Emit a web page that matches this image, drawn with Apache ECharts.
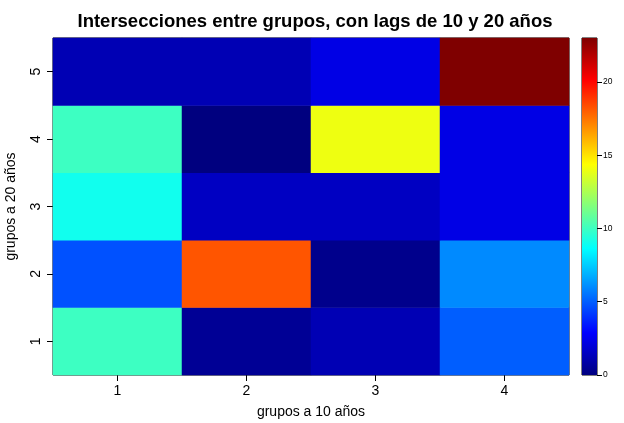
<!DOCTYPE html>
<html>
<head>
<meta charset="utf-8">
<script src="https://cdn.jsdelivr.net/npm/echarts@6/dist/echarts.min.js"></script>
<style>
  html, body { margin: 0; padding: 0; background: #fff; }
  #chart { width: 624px; height: 423px; }
</style>
</head>
<body>
<div id="chart"></div>
<script>
// Group labels on each axis
const xGroups = ['1', '2', '3', '4'];          // grupos a 10 años
const yGroups = ['1', '2', '3', '4', '5'];     // grupos a 20 años

// Intersection counts, one array per 20-year group (row), ordered by 10-year group
const row1 = [10, 0.5, 1.2, 5.0];
const row2 = [4.7, 18.2, 0.3, 6.0];
const row3 = [9.0, 1.5, 1.5, 2.3];
const row4 = [10, 0, 14, 2.3];
const row5 = [1.2, 1.2, 2.3, 23];
const rows = [row1, row2, row3, row4, row5];

// Colour scale range and legend ticks
const scaleMin = 0;
const scaleMax = 23;
const legendTicks = [0, 5, 10, 15, 20];

// Jet palette
const jet = ['#00007F', '#0000FF', '#007FFF', '#00FFFF', '#7FFF7F', '#FFFF00', '#FF7F00', '#FF0000', '#7F0000'];

const cells = [];
rows.forEach((r, yi) => r.forEach((v, xi) => cells.push([xi, yi, v])));

const font = 'Liberation Sans, Arial, Helvetica, sans-serif';

const chart = echarts.init(document.getElementById('chart'), null, { renderer: 'canvas' });
chart.setOption({
  backgroundColor: '#ffffff',
  animation: false,
  textStyle: { fontFamily: font },
  title: {
    text: 'Intersecciones entre grupos, con lags de 10 y 20 años',
    left: 310, top: 7, textAlign: 'center',
    textStyle: { fontFamily: font, fontWeight: 'bold', fontSize: 18.5, color: '#000' }
  },
  grid: [
    { left: 53, right: 55, top: 38, bottom: 48, outerBoundsMode: 'none', containLabel: false,
      show: true, borderColor: '#000', borderWidth: 1, backgroundColor: 'transparent' },
    { left: 582, width: 15, top: 38, bottom: 48, outerBoundsMode: 'none', containLabel: false,
      show: true, borderColor: '#000', borderWidth: 1, backgroundColor: 'transparent' }
  ],
  xAxis: [
    {
      gridIndex: 0, type: 'category', data: xGroups,
      name: 'grupos a 10 años', nameLocation: 'middle', nameGap: 30,
      nameTextStyle: { fontSize: 14, color: '#000' },
      axisLine: { show: false },
      axisTick: { show: true, alignWithLabel: true, length: 6, lineStyle: { color: '#000' } },
      axisLabel: { fontSize: 14, color: '#000', margin: 9 },
      splitLine: { show: false }
    },
    {
      gridIndex: 1, type: 'category', data: ['escala'],
      axisLine: { show: false }, axisTick: { show: false }, axisLabel: { show: false }
    }
  ],
  yAxis: [
    {
      gridIndex: 0, type: 'category', data: yGroups,
      name: 'grupos a 20 años', nameLocation: 'middle', nameGap: 35, nameRotate: 90,
      nameTextStyle: { fontSize: 14, color: '#000' },
      axisLine: { show: false },
      axisTick: { show: true, alignWithLabel: true, length: 6, lineStyle: { color: '#000' } },
      axisLabel: { fontSize: 14, color: '#000', rotate: 90, margin: 10 },
      splitLine: { show: false }
    },
    {
      gridIndex: 1, type: 'value', position: 'right', min: scaleMin, max: scaleMax,
      axisLine: { show: false },
      axisTick: { show: true, length: 5, customValues: legendTicks, lineStyle: { color: '#000' } },
      axisLabel: { fontSize: 8.5, color: '#000', margin: 6, customValues: legendTicks },
      splitLine: { show: false }
    }
  ],
  visualMap: {
    show: false, type: 'continuous', seriesIndex: 0,
    min: scaleMin, max: scaleMax, dimension: 2,
    inRange: { color: jet }
  },
  series: [
    {
      type: 'heatmap', xAxisIndex: 0, yAxisIndex: 0, data: cells,
      itemStyle: { borderWidth: 0 }, emphasis: { disabled: true }
    },
    {
      type: 'bar', xAxisIndex: 1, yAxisIndex: 1, data: [scaleMax],
      barWidth: '100%', silent: true,
      itemStyle: {
        color: new echarts.graphic.LinearGradient(0, 1, 0, 0,
          jet.map((c, i) => ({ offset: i / (jet.length - 1), color: c })))
      }
    }
  ]
});
</script>
</body>
</html>
